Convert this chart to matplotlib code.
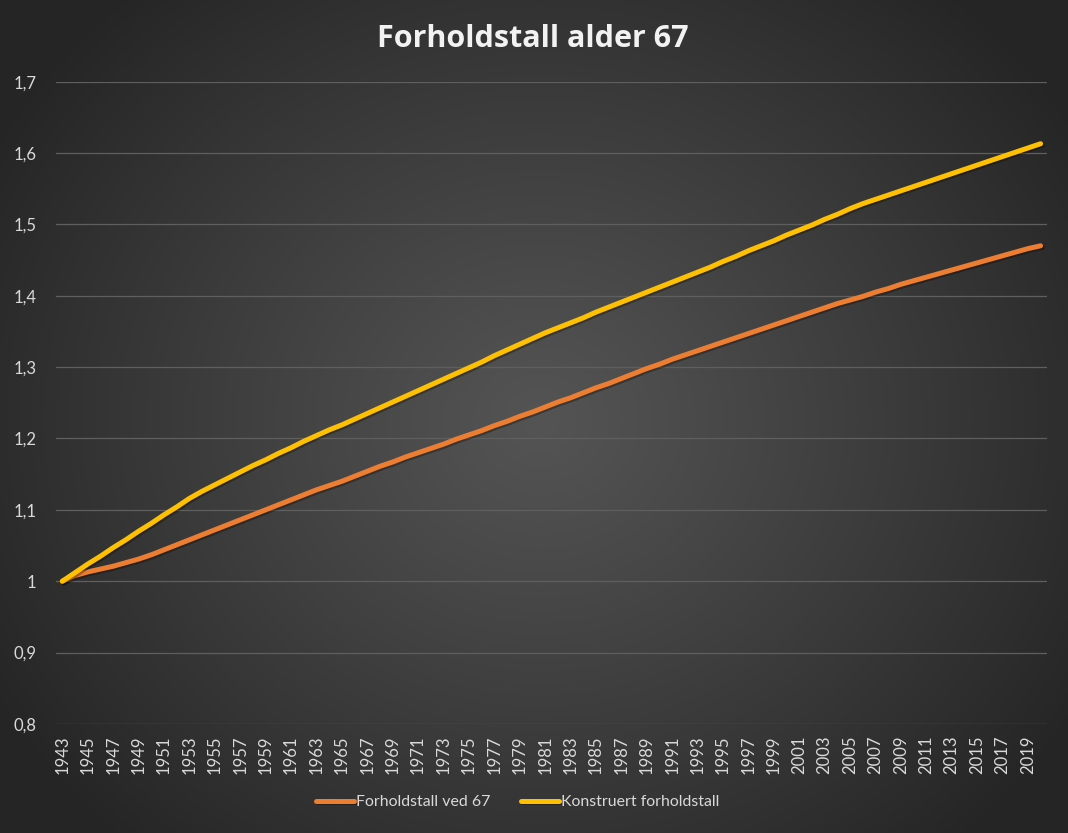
import numpy as np
import matplotlib.pyplot as plt
import matplotlib.patheffects as pe
from matplotlib.ticker import FuncFormatter, MultipleLocator

plt.rcParams['font.family'] = ['Lato', 'DejaVu Sans']

# Data
years = list(range(1943, 2021))

forholdstall_67 = [
    1.000, 1.008, 1.013, 1.017, 1.021, 1.026, 1.031, 1.037, 1.044, 1.051,
    1.058, 1.065, 1.072, 1.079, 1.086, 1.093, 1.100, 1.107, 1.114, 1.121,
    1.128, 1.134, 1.140, 1.147, 1.154, 1.161, 1.167, 1.174, 1.180, 1.186,
    1.192, 1.199, 1.205, 1.211, 1.218, 1.224, 1.231, 1.237, 1.244, 1.251,
    1.257, 1.264, 1.271, 1.277, 1.284, 1.291, 1.298, 1.304, 1.311, 1.317,
    1.323, 1.329, 1.335, 1.341, 1.347, 1.353, 1.359, 1.365, 1.371, 1.377,
    1.383, 1.389, 1.394, 1.399, 1.405, 1.410, 1.416, 1.421, 1.426, 1.431,
    1.436, 1.441, 1.446, 1.451, 1.456, 1.461, 1.466, 1.470,
]

konstruert = [
    1.000, 1.012, 1.024, 1.035, 1.047, 1.058, 1.070, 1.081, 1.093, 1.104,
    1.116, 1.126, 1.135, 1.144, 1.153, 1.162, 1.170, 1.179, 1.187, 1.196,
    1.204, 1.212, 1.219, 1.227, 1.235, 1.243, 1.251, 1.259, 1.267, 1.275,
    1.283, 1.291, 1.299, 1.307, 1.316, 1.324, 1.332, 1.340, 1.348, 1.355,
    1.362, 1.369, 1.377, 1.384, 1.391, 1.398, 1.405, 1.412, 1.419, 1.426,
    1.433, 1.440, 1.448, 1.455, 1.463, 1.470, 1.477, 1.485, 1.492, 1.499,
    1.507, 1.514, 1.522, 1.529, 1.535, 1.541, 1.547, 1.553, 1.559, 1.565,
    1.571, 1.577, 1.583, 1.589, 1.595, 1.601, 1.607, 1.613,
]

series_names = ["Forholdstall ved 67", "Konstruert forholdstall"]
series_colors = ["#ED7D31", "#FFC000"]

TEXT_COLOR = "#D9D9D9"

fig = plt.figure(figsize=(10.68, 8.33), dpi=100)

# Radial gradient background
bg = fig.add_axes([0, 0, 1, 1], zorder=-10)
h, w = 833, 1068
yy, xx = np.mgrid[0:h, 0:w]
r = np.sqrt(((xx - 540) / 620.0) ** 2 + ((yy - 420) / 560.0) ** 2)
r = np.clip(r, 0, 1)
shade = 84 - (84 - 38) * r ** 1.1
img = np.dstack([shade, shade, shade]) / 255.0
bg.imshow(img, aspect="auto", extent=[0, 1, 0, 1])
bg.axis("off")

ax = fig.add_axes([0.0524, 0.1309, 0.9279, 0.7711])
ax.set_facecolor("none")

x = np.arange(len(years))
shadow = [pe.SimpleLineShadow(offset=(1.2, -1.2), shadow_color="black", alpha=0.3), pe.Normal()]
for vals, name, col in zip([forholdstall_67, konstruert], series_names, series_colors):
    ax.plot(x, vals, color=col, lw=3.6, label=name, solid_capstyle="round",
            path_effects=shadow)

ax.set_xlim(-0.5, len(years) - 0.5)
ax.set_ylim(0.8, 1.7)
ax.yaxis.set_major_locator(MultipleLocator(0.1))
ax.yaxis.set_major_formatter(FuncFormatter(lambda v, p: f"{v:.1f}".rstrip("0").rstrip(".").replace(".", ",")))
ax.grid(axis="y", color="#5F5F5F", lw=0.9)
ax.set_axisbelow(True)

ax.set_xticks(x[::2])
ax.set_xticklabels([str(y) for y in years[::2]], rotation=90)

for s in ax.spines.values():
    s.set_visible(False)
ax.tick_params(axis="both", length=0, colors=TEXT_COLOR, labelsize=12)
ax.tick_params(axis="y", pad=14)
ax.tick_params(axis="x", pad=8)

fig.text(0.499, 0.953, "Forholdstall alder 67", ha="center", va="center",
         color="#F2F2F2", fontsize=22, fontweight="bold", family=["Open Sans", "DejaVu Sans"])

fig.legend(loc="center", bbox_to_anchor=(0.4846, 0.037), ncol=2, frameon=False,
           fontsize=11.4, labelcolor=TEXT_COLOR, handlelength=2.4,
           handletextpad=0.15, columnspacing=1.9)

fig.savefig("out.png", dpi=100)
